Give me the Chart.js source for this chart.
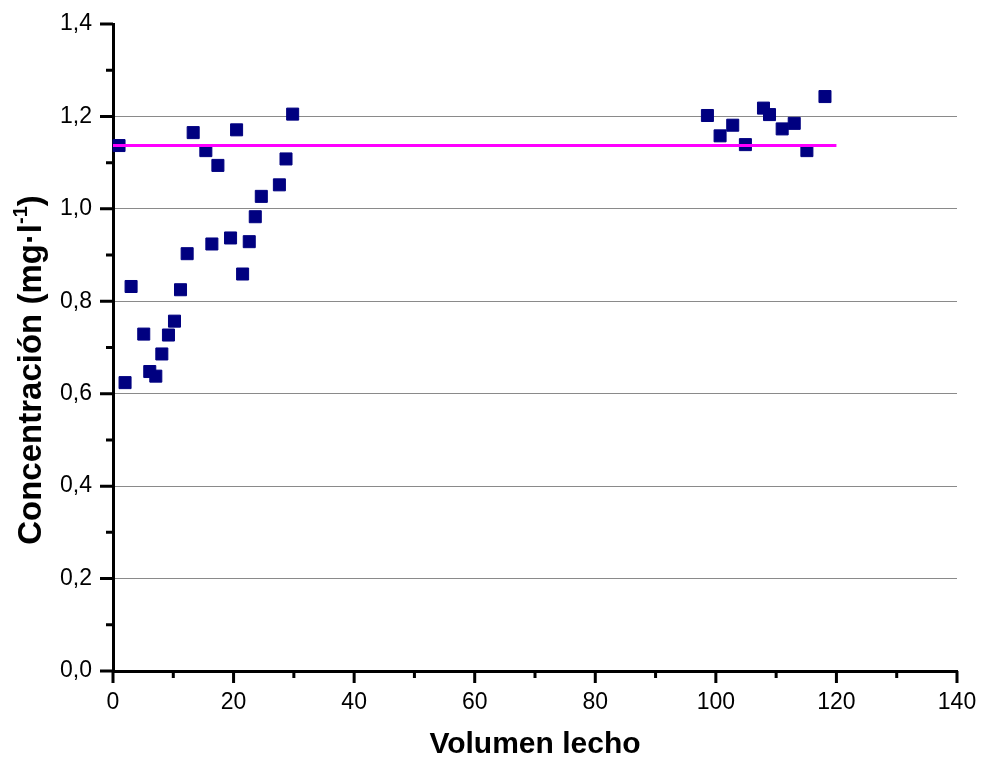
<!DOCTYPE html>
<html>
<head>
<meta charset="utf-8">
<script src="https://cdn.jsdelivr.net/npm/chart.js@4.4.0/dist/chart.umd.min.js"></script>
<style>
  html, body { margin: 0; padding: 0; background: #fff; }
  #wrap { width: 981px; height: 761px; }
</style>
</head>
<body>
<div id="wrap"><canvas id="myChart" width="981" height="761"></canvas></div>
<script>
// volumen de lecho y concentración medida
var volumen = [1.0, 2.0, 3.0, 5.1, 6.1, 7.1, 8.1, 9.2, 10.2, 11.2, 12.3, 13.3, 15.4, 16.4, 17.4, 19.5, 20.5, 21.5, 22.6, 23.6, 24.6, 27.6, 28.7, 29.8,
  98.6, 100.7, 102.8, 104.9, 107.9, 108.9, 111.0, 113.0, 115.1, 118.1];
var concentracion = [1.137, 0.624, 0.832, 0.729, 0.648, 0.638, 0.686, 0.727, 0.757, 0.825, 0.903, 1.165, 1.126, 0.924, 1.094, 0.937, 1.171, 0.859, 0.929, 0.983, 1.027, 1.052, 1.108, 1.205,
  1.202, 1.158, 1.181, 1.139, 1.218, 1.204, 1.173, 1.185, 1.126, 1.243];

// línea horizontal de referencia
var refX = [0, 120];
var refY = [1.137, 1.137];

// marcas de los ejes
var xTicks = [0, 20, 40, 60, 80, 100, 120, 140];
var xMinor = [10, 30, 50, 70, 90, 110, 130];
var yTicks = [0, 0.2, 0.4, 0.6, 0.8, 1.0, 1.2, 1.4];
var yMinor = [0.1, 0.3, 0.5, 0.7, 0.9, 1.1, 1.3];

var fuente = '"Liberation Sans", Arial, sans-serif';

function pares(xs, ys) {
  return xs.map(function (x, i) { return { x: x, y: ys[i] }; });
}

// tamaño fijo de los ejes, sin márgenes extra por las etiquetas
function fijar(s, prop, valor) {
  s[prop] = valor;
  s.paddingLeft = 0; s.paddingRight = 0;
  s.paddingTop = 0; s.paddingBottom = 0;
}

// marcas mayores y menores hacia fuera
var marcas = {
  id: 'marcas',
  afterDraw: function (chart) {
    var ctx = chart.ctx;
    var xs = chart.scales.x, ys = chart.scales.y;
    var a = chart.chartArea;
    ctx.save();
    ctx.strokeStyle = '#000';
    ctx.lineWidth = 3;
    ctx.beginPath();
    xTicks.forEach(function (v) {
      var p = xs.getPixelForValue(v);
      ctx.moveTo(p, a.bottom); ctx.lineTo(p, a.bottom + 12);
    });
    xMinor.forEach(function (v) {
      var p = xs.getPixelForValue(v);
      ctx.moveTo(p, a.bottom); ctx.lineTo(p, a.bottom + 7);
    });
    yTicks.forEach(function (v) {
      var p = ys.getPixelForValue(v);
      ctx.moveTo(a.left, p); ctx.lineTo(a.left - 13, p);
    });
    yMinor.forEach(function (v) {
      var p = ys.getPixelForValue(v);
      ctx.moveTo(a.left, p); ctx.lineTo(a.left - 7, p);
    });
    ctx.stroke();
    ctx.restore();
  }
};

// título del eje y con superíndice
var tituloY = {
  id: 'tituloY',
  afterDraw: function (chart) {
    var ctx = chart.ctx;
    var t1 = 'Concentración (mg·l', t2 = '-1', t3 = ')';
    ctx.save();
    ctx.fillStyle = '#000';
    ctx.textBaseline = 'alphabetic';
    ctx.textAlign = 'left';
    ctx.font = 'bold 33px ' + fuente;
    var w1 = ctx.measureText(t1).width, w3 = ctx.measureText(t3).width;
    ctx.font = 'bold 20px ' + fuente;
    var w2 = ctx.measureText(t2).width;
    var x0 = -(w1 + w2 + w3) / 2;
    ctx.translate(41, 370);
    ctx.rotate(-Math.PI / 2);
    ctx.font = 'bold 33px ' + fuente;
    ctx.fillText(t1, x0, 0);
    ctx.font = 'bold 20px ' + fuente;
    ctx.fillText(t2, x0 + w1, -14);
    ctx.font = 'bold 33px ' + fuente;
    ctx.fillText(t3, x0 + w1 + w2, 0);
    ctx.restore();
  }
};

var ctx = document.getElementById('myChart').getContext('2d');
var chart = new Chart(ctx, {
  type: 'scatter',
  data: {
    datasets: [{
      // línea de referencia, dibujada encima de los puntos
      data: pares(refX, refY),
      showLine: true,
      borderColor: '#ff00ff',
      borderWidth: 3,
      pointRadius: 0,
      fill: false,
      order: 0,
      clip: false
    }, {
      data: pares(volumen, concentracion),
      pointStyle: 'rect',
      pointRadius: 8.5,
      backgroundColor: '#000080',
      borderColor: '#000080',
      borderWidth: 1,
      order: 1,
      clip: false
    }]
  },
  options: {
    responsive: false,
    animation: false,
    layout: { padding: { left: 0, right: 24, top: 24, bottom: 0 } },
    plugins: {
      legend: { display: false },
      tooltip: { enabled: false }
    },
    scales: {
      x: {
        type: 'linear',
        min: 0,
        max: 140,
        afterFit: function (s) { fijar(s, 'height', 90); },
        afterBuildTicks: function (s) { s.ticks = xTicks.map(function (v) { return { value: v }; }); },
        grid: { display: false, drawTicks: false },
        border: { display: true, color: '#000', width: 3 },
        ticks: {
          color: '#000',
          font: { family: fuente, size: 23 },
          padding: 18,
          maxRotation: 0
        },
        title: {
          display: true,
          text: 'Volumen lecho',
          color: '#000',
          font: { family: fuente, size: 30, weight: 'bold' },
          padding: { top: 0, bottom: -2 }
        }
      },
      y: {
        type: 'linear',
        min: 0,
        max: 1.4,
        afterFit: function (s) { fijar(s, 'width', 113); },
        afterBuildTicks: function (s) { s.ticks = yTicks.map(function (v) { return { value: v }; }); },
        grid: {
          drawTicks: false,
          lineWidth: 1,
          color: function (c) {
            var v = c.tick ? c.tick.value : 0;
            return (v > 0.01 && v < 1.39) ? '#8a8a8a' : 'rgba(0,0,0,0)';
          }
        },
        border: { display: true, color: '#000', width: 3 },
        ticks: {
          color: '#000',
          font: { family: fuente, size: 23 },
          padding: 21,
          callback: function (v) { return v.toFixed(1).replace('.', ','); }
        },
        title: { display: false }
      }
    }
  },
  plugins: [marcas, tituloY]
});
</script>
</body>
</html>
